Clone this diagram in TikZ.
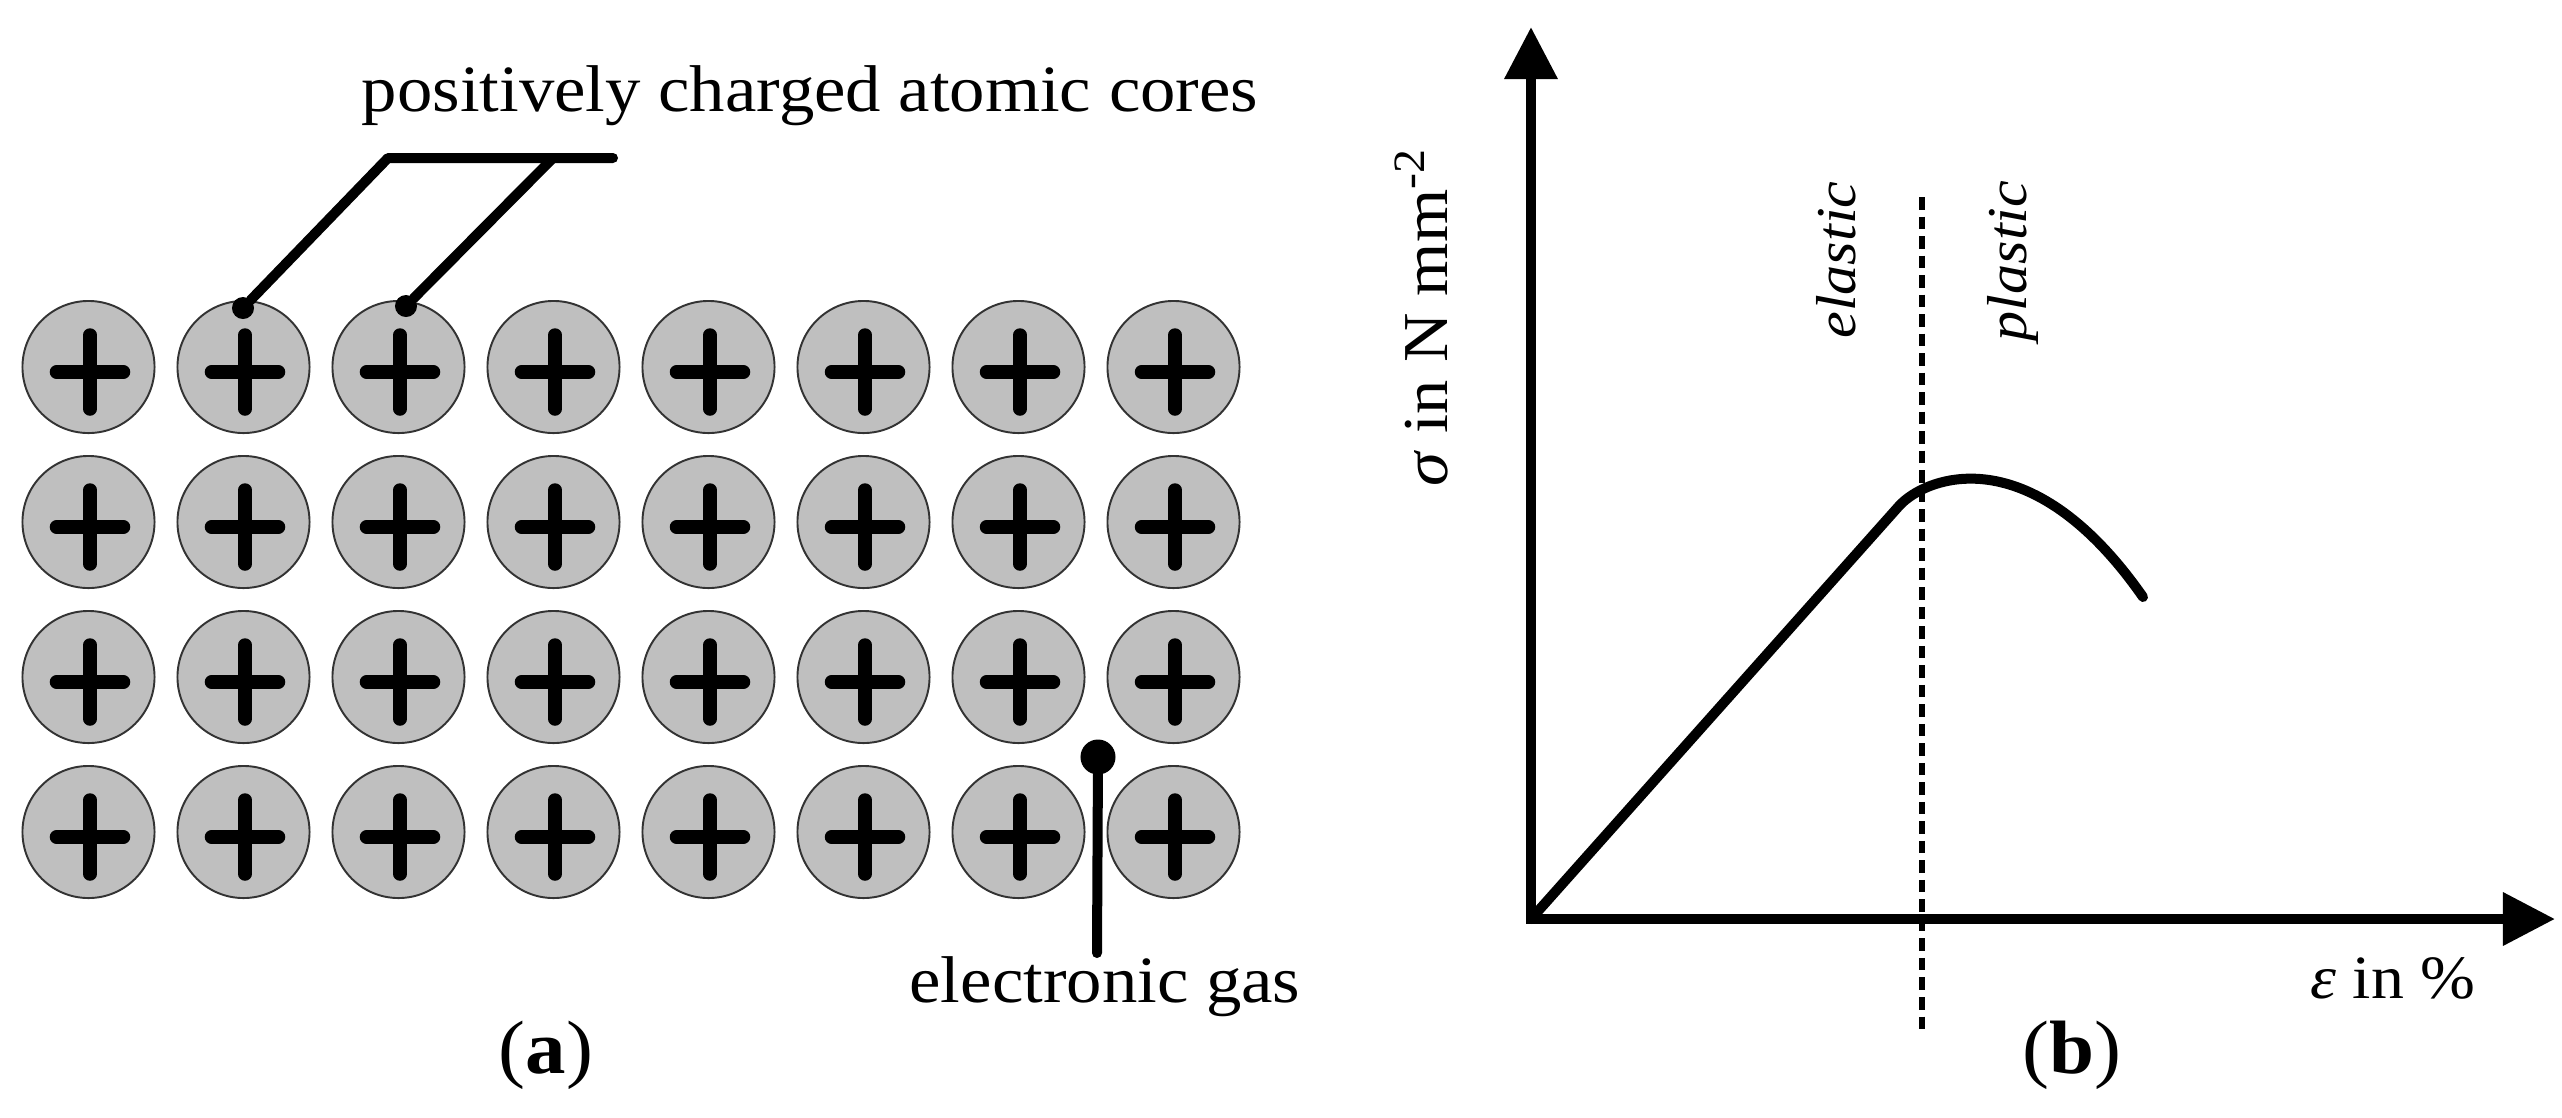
\documentclass[tikz,border=0pt]{standalone}
\usepackage{fontspec}
\setmainfont{Liberation Serif}[FakeStretch=1.07]
\usetikzlibrary{arrows.meta}
\definecolor{coregray}{RGB}{191,191,191}
\tikzset{
  core/.style={circle,draw=black!80,line width=.55pt,fill=coregray,inner sep=0,outer sep=0,minimum size=1.32cm},
  plusbar/.style={line width=.135cm,line cap=round},
  leader/.style={line width=.1cm,line cap=round,line join=round},
  tipdot/.style={circle,fill=black,inner sep=0,outer sep=0},
  axis/.style={line width=.1cm,line join=miter,{Triangle[length=.52cm,width=.51cm]}-{Triangle[length=.52cm,width=.51cm]}},
  label/.style={inner sep=0,anchor=base,font=\fontsize{18.8}{22}\selectfont},
  curvelabel/.style={label,rotate=90,font=\fontsize{16}{19}\selectfont},
  caption/.style={label,font=\fontsize{21.5}{25}\selectfont},
}
\begin{document}
\begin{tikzpicture}[x=.01cm,y=-.01cm]
\useasboundingbox (0,0) rectangle (2562,1117);
\def\stepsize{155}

% lattice
\foreach \row in {0,...,3}
  \foreach \col in {0,...,7} {
    \node[core] (c\row\col) at (88.5+\stepsize*\col,367+\stepsize*\row) {};
    \draw[plusbar] ([shift={(1.5,-32)}]c\row\col.center) -- ([shift={(1.5,42)}]c\row\col.center);
    \draw[plusbar] ([shift={(-32,5)}]c\row\col.center) -- ([shift={(35,5)}]c\row\col.center);
  }

% leaders
\node[tipdot,minimum size=.22cm] (dotA) at (243,308) {};
\node[tipdot,minimum size=.22cm] (dotB) at (406,306) {};
\node[tipdot,minimum size=.35cm] (dotC) at (1098,757) {};
\coordinate (bendA) at (388,158);
\coordinate (bendB) at (553,158);
\coordinate (endA) at (613,158);
\coordinate (endC) at (1097,953);
\draw[leader] (dotA) -- (bendA) -- (endA);
\draw[leader] (dotB) -- (bendB);
\draw[leader] (dotC) -- (endC);

\node[label] (cores) at (810,111) {positively charged atomic cores};
\node[label] (gas) at (1105,1002) {electronic gas};
\node[caption] (a) at (546,1073) {(\textbf{a})};

% chart
\coordinate (ytip) at (1531,27);
\coordinate (origin) at (1531,919);
\coordinate (xtip) at (2555,919);
\draw[axis] (ytip) -- (origin) -- (xtip);
\coordinate (dashtop) at (1922,197);
\coordinate (dashend) at (1922,1033);
\draw[line width=.06cm,dash pattern=on .125cm off .07cm] (dashtop) -- (dashend);
\draw[leader] (origin) -- (1899,506) .. controls (1925,477) and (2030,435) .. (2143,597);

\node[label,rotate=90,font=\fontsize{18.2}{21}\selectfont] (stress) at (1447,317) {\textit{σ} in N mm\textsuperscript{-2}};
\node[curvelabel] (elastic) at (1855,260) {\textit{elastic}};
\node[curvelabel] (plastic) at (2026,261) {\textit{plastic}};
\node[label,font=\fontsize{17.5}{20}\selectfont] (strain) at (2393,998) {\textit{ε} in \%};
\node[caption] (b) at (2072,1073) {(\textbf{b})};
\end{tikzpicture}
\end{document}
